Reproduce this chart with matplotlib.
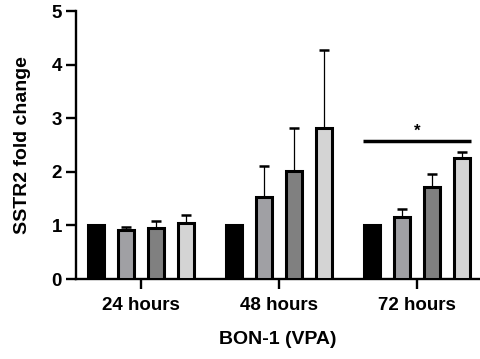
import matplotlib
matplotlib.use("Agg")
import matplotlib.pyplot as plt
import numpy as np

plt.rcParams['font.family'] = ['Liberation Sans', 'DejaVu Sans']
plt.rcParams['font.weight'] = 'bold'

groups = ["24 hours", "48 hours", "72 hours"]
means = [
    [1.00, 0.91, 0.96, 1.04],
    [1.00, 1.53, 2.02, 2.82],
    [1.00, 1.16, 1.72, 2.26],
]
errs = [
    [0.00, 0.06, 0.12, 0.15],
    [0.00, 0.58, 0.80, 1.45],
    [0.00, 0.14, 0.24, 0.11],
]
colors = ["#000000", "#a0a0a4", "#808080", "#d4d4d4"]
sig_y = 2.57

fig = plt.figure(figsize=(4.8, 3.59), dpi=100)
ax = fig.add_axes([0.158, 0.2228, 0.84, 0.7465])

step = 0.2174
width = 0.115
offsets = [-1.5 * step, -0.5 * step, 0.5 * step, 1.5 * step]
x = np.arange(len(groups))
means = np.array(means)
errs = np.array(errs)
for j in range(4):
    xs = x + offsets[j]
    ax.errorbar(xs, means[:, j], yerr=[np.zeros(len(groups)), errs[:, j]],
                fmt='none', ecolor='black', elinewidth=0.9, capsize=3.5,
                capthick=1.8, zorder=2)
    ax.bar(xs, means[:, j], width=width, color=colors[j], edgecolor='black',
           linewidth=2.2, zorder=3)

# significance bracket
x0 = x[2] + offsets[0] - width / 2 - 0.01
x1 = x[2] + offsets[3] + width / 2 + 0.01
ax.plot([x0, x1], [sig_y, sig_y], color='black', lw=2.5, solid_capstyle='butt', zorder=4)
ax.text((x0 + x1) / 2, sig_y + 0.04, "*", ha='center', va='bottom', fontsize=12, fontweight='bold')

ax.set_xlim(-0.471, 2.45)
ax.set_ylim(0, 5)
ax.set_yticks([0, 1, 2, 3, 4, 5])
ax.set_xticks(x)
ax.set_xticklabels(groups)
ax.spines['top'].set_visible(False)
ax.spines['right'].set_visible(False)
ax.spines['left'].set_linewidth(1.7)
ax.spines['bottom'].set_linewidth(1.7)
ax.tick_params(axis='both', width=1.7, length=7, labelsize=13.5)
ax.tick_params(axis='x', pad=6)
ax.tick_params(axis='y', pad=3)
for lab in ax.get_xticklabels() + ax.get_yticklabels():
    lab.set_fontweight('bold')
ax.set_xlabel("BON-1 (VPA)", fontsize=14, fontweight='bold', labelpad=12)
ax.set_ylabel("SSTR2 fold change", fontsize=14, fontweight='bold', labelpad=15)

fig.savefig("out.png", dpi=100)
